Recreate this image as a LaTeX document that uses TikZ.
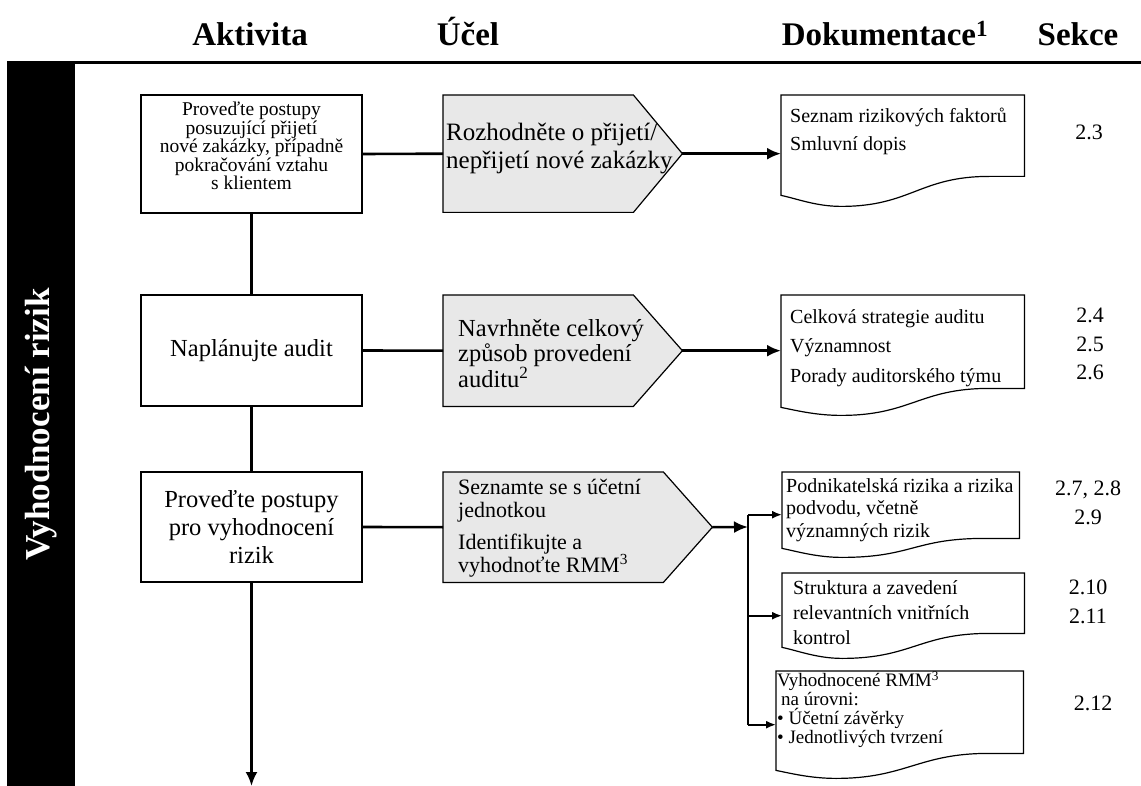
\documentclass[tikz,border=0pt]{standalone}
\usepackage{fontspec}
\setmainfont{Liberation Serif}
\usetikzlibrary{positioning,calc,arrows.meta}

\tikzset{
  hlavicka/.style={anchor=base, font=\bfseries\fontsize{33}{36}\selectfont},
  postranni/.style={fill=black, text=white, rotate=90, minimum width=723pt, minimum height=68pt,
    font=\bfseries\fontsize{35}{38}\selectfont},
  aktivita/.style={draw, line width=1.2pt, minimum width=221pt, align=center, inner sep=2pt},
  aktText/.style={align=center, inner sep=0pt},
  ucel/.style={anchor=north west, inner sep=0pt},
  ucelobrys/.style={draw, line width=1.2pt, fill=black!9},
  ucelText/.style={anchor=west, align=left, inner sep=0pt},
  dokument/.style={anchor=north west, inner sep=0pt},
  dokText/.style={anchor=west, align=left, inner sep=0pt, font=\fontsize{20}{28}\selectfont},
  obrys/.style={draw, line width=1.2pt},
  sekce/.style={align=center, inner sep=0pt, font=\fontsize{22}{28.5}\selectfont},
  spoj/.style={line width=2.6pt},
  sipka/.style={line width=2.6pt, -{Latex[length=14pt,width=12pt]}},
  vetev/.style={line width=1.8pt, -{Latex[length=10pt,width=8pt]}},
}

% obrys dokumentu: jmeno uzlu, vyska vpravo, vyska vlevo
\newcommand{\obrysdok}[3]{%
  \draw[obrys] (#1.north west) -- (#1.north east) -- ($(#1.south east)+(0,-#2)$) -- ++(-35,0)
    .. controls +(-70,0) and +(70,0) .. ($(#1.south west)+(60,0)$)
    .. controls +(-25,0) and +(15,3) .. ($(#1.south west)+(0,-#3)$) -- cycle;}

\begin{document}
\begin{tikzpicture}[x=1pt,y=-1pt]
\useasboundingbox (0,0) rectangle (1141,786);

% hlavicka
\node[hlavicka] (hAktivita) at (250,46) {Aktivita};
\node[hlavicka] (hUcel) at (468,46) {Účel};
\node[hlavicka] (hDokumentace) at (885,46) {Dokumentace\textsuperscript{1}};
\node[hlavicka] (hSekce) at (1078,46) {Sekce};
\draw[line width=3pt] (7,63) -- (1141,63);

\node[postranni] (pruh) at (41,424.5) {Vyhodnocení rizik};

% aktivity
\node[aktivita, minimum height=118pt] (akt1) at (251.5,154) {};
\node[aktText, font=\fontsize{19.5}{18.5}\selectfont] (akt1text) at ($(akt1.center)+(0,-8)$)
  {Proveďte postupy\\posuzující přijetí\\nové zakázky, případně\\pokračování vztahu\\s klientem};
\node[aktivita, minimum height=111pt, font=\fontsize{24.5}{28}\selectfont] (akt2) at (251.5,350.5)
  {Naplánujte audit};
\node[aktivita, minimum height=110pt, font=\fontsize{24.5}{28}\selectfont] (akt3) at (251.5,527)
  {Proveďte postupy\\pro vyhodnocení\\rizik};
\coordinate (konec) at (251.5,786);

% ucel
\node[ucel, minimum width=190pt, minimum height=117pt] (ucel1) at (443,95) {};
\coordinate (ucel1hrot) at ($(ucel1.east)+(49,0)$);
\path[ucelobrys] (ucel1.north west) -- (ucel1.north east) -- (ucel1hrot) -- (ucel1.south east) -- (ucel1.south west) -- cycle;
\node[ucelText, font=\fontsize{25}{28}\selectfont] (ucel1text) at (446,149)
  {Rozhodněte o přijetí/\\nepřijetí nové zakázky};

\node[ucel, minimum width=190pt, minimum height=111pt] (ucel2) at (443,295) {};
\coordinate (ucel2hrot) at ($(ucel2.east)+(49,0)$);
\path[ucelobrys] (ucel2.north west) -- (ucel2.north east) -- (ucel2hrot) -- (ucel2.south east) -- (ucel2.south west) -- cycle;
\node[ucelText, font=\fontsize{24.5}{24.5}\selectfont] (ucel2text) at (458,354)
  {Navrhněte celkový\\způsob provedení\\auditu\textsuperscript{2}};

\node[ucel, minimum width=220pt, minimum height=110pt] (ucel3) at (443,472) {};
\coordinate (ucel3hrot) at ($(ucel3.east)+(49,0)$);
\path[ucelobrys] (ucel3.north west) -- (ucel3.north east) -- (ucel3hrot) -- (ucel3.south east) -- (ucel3.south west) -- cycle;
\node[ucelText, font=\fontsize{22}{23}\selectfont] (ucel3text) at (458,528)
  {Seznamte se s účetní\\jednotkou\\[9pt]Identifikujte a\\vyhodnoťte RMM\textsuperscript{3}};
\coordinate (rozvetveni) at (748,527);

% dokumentace
\node[dokument, minimum width=243pt, minimum height=111pt] (dok1) at (781,95) {};
\obrysdok{dok1}{30}{11}
\node[dokText] (dok1text) at (790,131) {Seznam rizikových faktorů\\Smluvní dopis};

\node[dokument, minimum width=243pt, minimum height=120pt] (dok2) at (781,295) {};
\obrysdok{dok2}{27}{8}
\node[dokText, font=\fontsize{20}{29.5}\selectfont] (dok2text) at (790,348)
  {Celková strategie auditu\\Významnost\\Porady auditorského týmu};

\node[dokument, minimum width=237pt, minimum height=85pt] (dok3) at (782,472) {};
\obrysdok{dok3}{19}{9}
\node[dokText, font=\fontsize{20}{22.5}\selectfont] (dok3text) at (786,510)
  {Podnikatelská rizika a rizika\\podvodu, včetně\\významných rizik};

\node[dokument, minimum width=242pt, minimum height=85pt] (dok4) at (782,573) {};
\obrysdok{dok4}{25}{11}
\node[dokText, font=\fontsize{20}{25}\selectfont] (dok4text) at (793,613)
  {Struktura a zavedení\\relevantních vnitřních\\kontrol};

\node[dokument, minimum width=247pt, minimum height=107pt] (dok5) at (776,671) {};
\obrysdok{dok5}{25}{8}
\node[dokText, font=\fontsize{19}{19}\selectfont] (dok5text) at (777,710)
  {Vyhodnocené RMM\textsuperscript{3}\\\hspace{4pt}na úrovni:\\• Účetní závěrky\\• Jednotlivých tvrzení};

% sekce
\node[sekce] (sekce1) at (1089,132) {2.3};
\node[sekce] (sekce2) at (1090,344) {2.4\\2.5\\2.6};
\node[sekce] (sekce3) at (1088,503) {2.7, 2.8\\2.9};
\node[sekce] (sekce4) at (1088,602) {2.10\\2.11};
\node[sekce] (sekce5) at (1093,703) {2.12};

% spoje
\draw[spoj] (akt1.south) -- (akt2.north);
\draw[spoj] (akt2.south) -- (akt3.north);
\draw[sipka] (akt3.south) -- (konec);
\draw[spoj] (akt1.east) -- (ucel1.west);
\draw[spoj] (akt2.east) -- (ucel2.west);
\draw[spoj] (akt3.east) -- (ucel3.west);
\draw[sipka] (ucel1hrot) -- (ucel1hrot -| dok1.west);
\draw[sipka] (ucel2hrot) -- (ucel2hrot -| dok2.west);
\draw[sipka] (ucel3hrot) -- (rozvetveni);
\draw[line width=1.8pt] (rozvetveni |- dok3.west) -- (rozvetveni |- dok5.west);
\draw[vetev] (rozvetveni |- dok3.west) -- (dok3.west);
\draw[vetev] (rozvetveni |- dok4.west) -- (dok4.west);
\draw[vetev] (rozvetveni |- dok5.west) -- (dok5.west);

\end{tikzpicture}
\end{document}
